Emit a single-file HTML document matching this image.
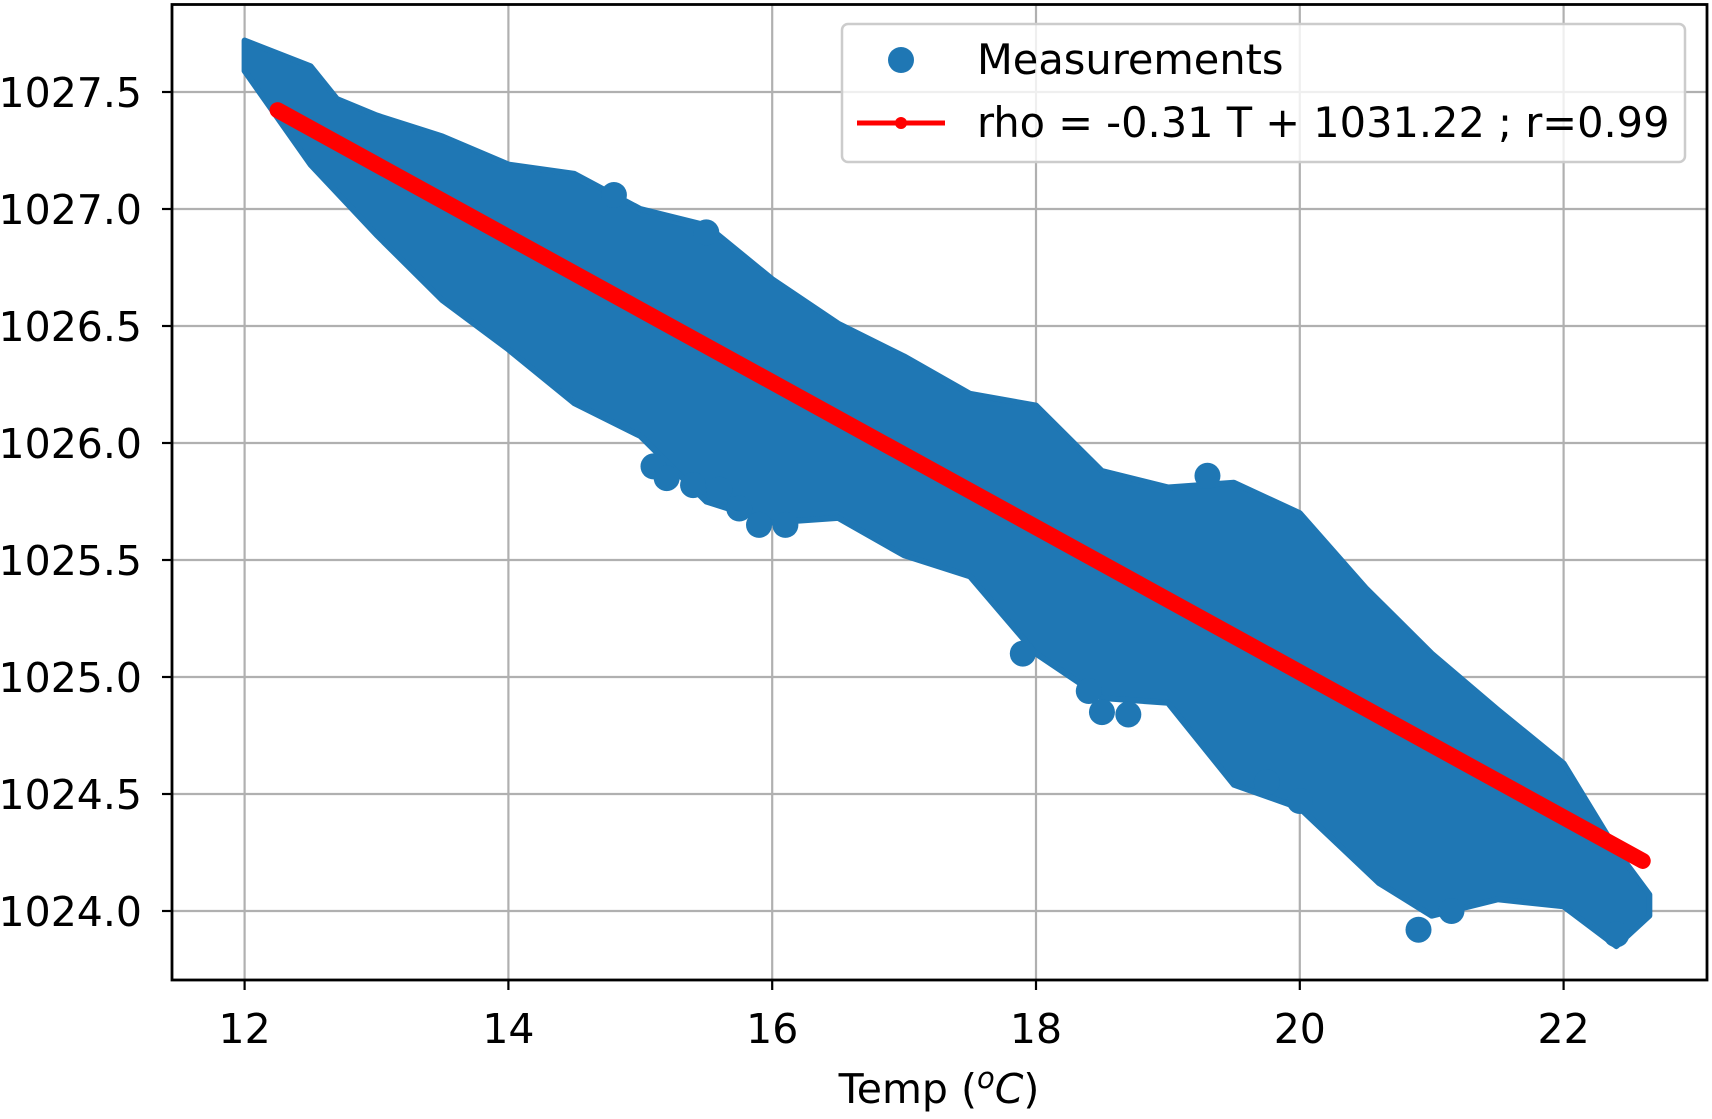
<!DOCTYPE html>
<html><head><meta charset="utf-8"><style>
html,body{margin:0;padding:0;background:#fff;}
svg{display:block;font-family:"DejaVu Sans","Liberation Sans",sans-serif;}
</style></head><body>
<svg id="chart" width="1712" height="1119" viewBox="0 0 1712 1119">
<g id="grid"></g>
<g id="marks"></g>
<rect x="172" y="4.5" width="1535" height="975.5" fill="none" stroke="#000" stroke-width="2.8"/>
<g id="axes"></g>
<text x="939" y="1103" font-size="41" text-anchor="middle">Temp (<tspan font-style="italic" font-size="29" dy="-15">o</tspan><tspan font-style="italic" dy="15">C</tspan>)</text>
<g>
<rect x="842" y="24" width="843" height="138" rx="6" fill="#fff" fill-opacity="0.8" stroke="#ccc" stroke-width="2.5"/>
<circle cx="901" cy="60" r="13" fill="#1f77b4"/>
<text x="977" y="74" font-size="41.5">Measurements</text>
<line x1="857" y1="123" x2="945" y2="123" stroke="#ff0000" stroke-width="5"/>
<circle cx="901" cy="123" r="6" fill="#ff0000"/>
<text x="977" y="137" font-size="41.5">rho = -0.31 T + 1031.22 ; r=0.99</text>
</g>
</svg>
<script>
const xTicks=[12,14,16,18,20,22];
const yTicks=[1024.0,1024.5,1025.0,1025.5,1026.0,1026.5,1027.0,1027.5];
const upperT=[12.0,12.5,12.7,13.0,13.5,14.0,14.5,15.0,15.5,16.0,16.5,17.0,17.5,18.0,18.5,19.0,19.5,20.0,20.5,21.0,21.5,22.0,22.4,22.65];
const upperRho=[1027.72,1027.61,1027.47,1027.40,1027.31,1027.19,1027.15,1027.00,1026.93,1026.70,1026.51,1026.37,1026.21,1026.16,1025.88,1025.81,1025.83,1025.70,1025.38,1025.10,1024.86,1024.63,1024.26,1024.07];
const lowerT=[22.65,22.4,22.0,21.5,21.0,20.6,20.0,19.5,19.0,18.5,18.0,17.5,17.0,16.5,16.0,15.5,15.0,14.5,14.0,13.5,13.0,12.5,12.0];
const lowerRho=[1023.98,1023.85,1024.02,1024.05,1023.98,1024.12,1024.44,1024.54,1024.89,1024.91,1025.10,1025.43,1025.52,1025.68,1025.66,1025.75,1026.03,1026.17,1026.40,1026.61,1026.89,1027.19,1027.59];
const outT=[15.1,15.2,15.4,15.6,15.75,15.9,16.1,20.9,18.4,18.5,18.7,21.15,22.4,19.75,20.0,17.9,14.8,15.5,19.3];
const outRho=[1025.9,1025.85,1025.82,1025.8,1025.72,1025.65,1025.65,1023.92,1024.94,1024.85,1024.84,1024.0,1023.9,1024.55,1024.47,1025.1,1027.06,1026.9,1025.86];
const fitSlope=-0.31, fitIntercept=1031.22;
const fitRange=[12.25,22.6];

const NS='http://www.w3.org/2000/svg';
const X=t=>244.6+(t-12)*131.9;
const Y=r=>911-(r-1024)*234;
function mk(tag,attrs,parent){const e=document.createElementNS(NS,tag);for(const k in attrs)e.setAttribute(k,attrs[k]);parent.appendChild(e);return e;}
const grid=document.getElementById('grid'),marks=document.getElementById('marks'),axes=document.getElementById('axes');
xTicks.forEach(t=>{
  const g=mk('line',{x1:X(t),x2:X(t),y1:4.5,y2:980,stroke:'#b0b0b0','stroke-width':2.2},grid);
  
  
  const tk=mk('line',{x1:X(t),x2:X(t),y1:980,y2:990,stroke:'#000','stroke-width':2.2},axes);
  
  
  const lb=mk('text',{x:X(t),y:1043,'font-size':41,'text-anchor':'middle'},axes);
  lb.textContent=String(t);
  
  
});
yTicks.forEach(r=>{
  const g=mk('line',{x1:172,x2:1707,y1:Y(r),y2:Y(r),stroke:'#b0b0b0','stroke-width':2.2},grid);
  
  
  const tk=mk('line',{x1:162,x2:172,y1:Y(r),y2:Y(r),stroke:'#000','stroke-width':2.2},axes);
  
  
  const lb=mk('text',{x:142,y:Y(r)+15,'font-size':41,'text-anchor':'end'},axes);
  lb.textContent=r.toFixed(1);
  
  
});
let pts=upperT.map((t,i)=>X(t)+','+Y(upperRho[i])).concat(lowerT.map((t,i)=>X(t)+','+Y(lowerRho[i])));
const band=mk('polygon',{points:pts.join(' '),fill:'#1f77b4',stroke:'#1f77b4','stroke-width':6,'stroke-linejoin':'round'},marks);


outT.forEach((t,i)=>{
  const c=mk('circle',{cx:X(t),cy:Y(outRho[i]),r:13,fill:'#1f77b4'},marks);
  
  
});
const fl=mk('line',{x1:X(fitRange[0]),y1:Y(fitSlope*fitRange[0]+fitIntercept),x2:X(fitRange[1]),y2:Y(fitSlope*fitRange[1]+fitIntercept),stroke:'#ff0000','stroke-width':16,'stroke-linecap':'round'},marks);


</script>
</body></html>
